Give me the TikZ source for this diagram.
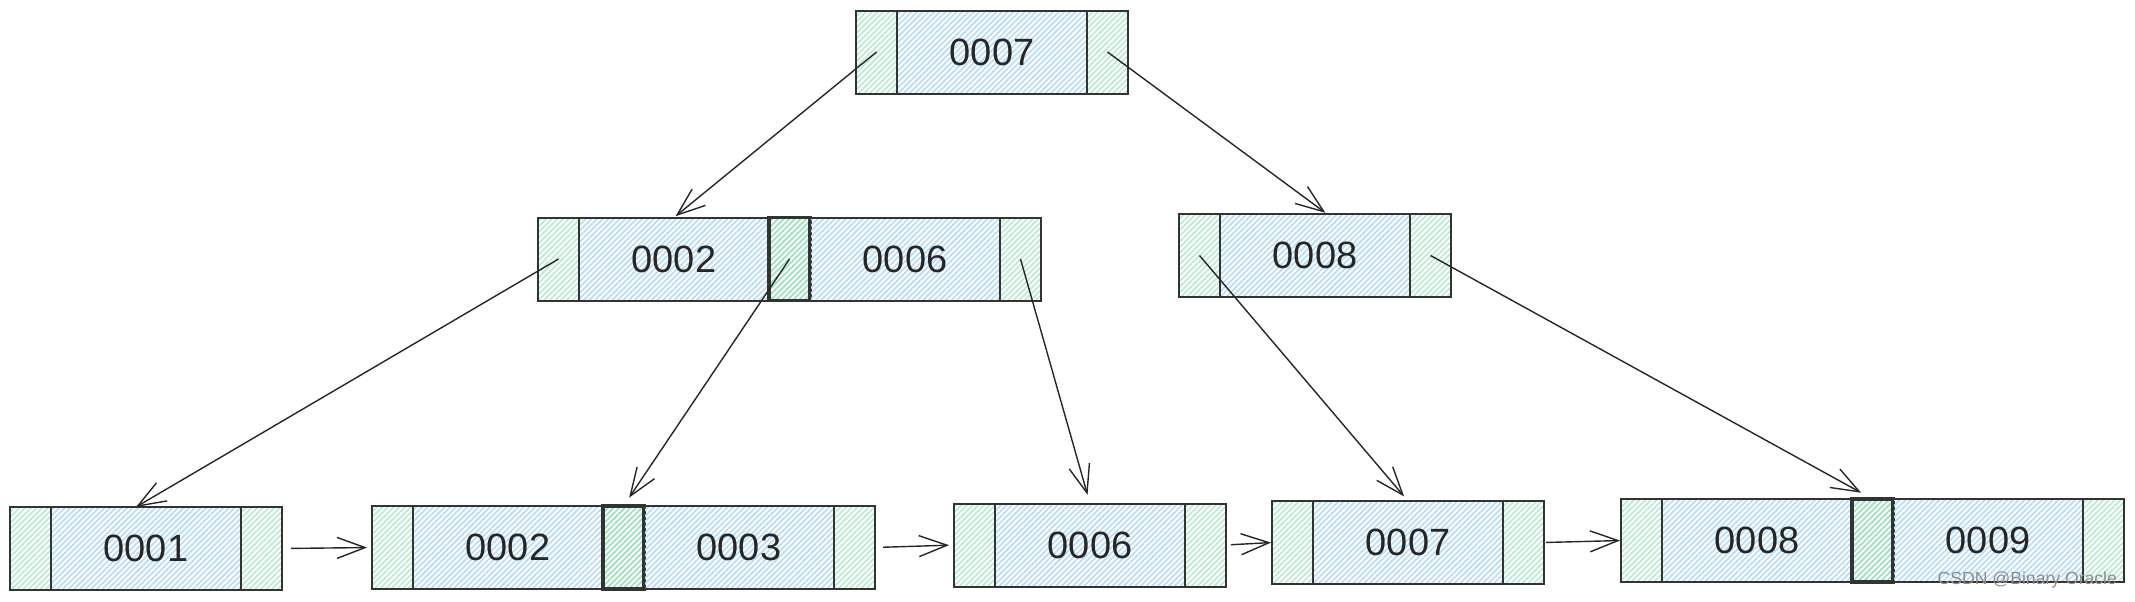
\documentclass[tikz,border=0pt]{standalone}
\usepackage{fontspec}
\setmainfont{Liberation Sans}
\usetikzlibrary{positioning,arrows.meta,patterns.meta}
\definecolor{keyblue}{HTML}{BBDDF6}
\definecolor{ptrgreen}{HTML}{BDEBD3}
\definecolor{midgreen}{HTML}{9FE0BF}
\definecolor{boxline}{HTML}{333333}

\begin{document}
\begin{tikzpicture}[x=0.5pt,y=-0.5pt,node distance=0pt,
   box/.style={draw=boxline,line width=1pt,minimum height=41.5pt,inner sep=0pt,outer sep=0pt},
   key/.style={box,minimum width=95pt,text=black!85,font=\fontsize{19}{19}\selectfont,
      pattern={Lines[angle=45,distance=2pt,line width=0.9pt]},pattern color=keyblue},
   ptr/.style={box,minimum width=20.5pt,
      pattern={Lines[angle=45,distance=2pt,line width=0.9pt]},pattern color=ptrgreen},
   midptr/.style={ptr,line width=1.7pt,pattern color=midgreen},
   link/.style={-{Straight Barb[length=14pt,width=10.5pt]},line width=0.7pt,color=black!85}]
   \useasboundingbox (0,0) rectangle (2135,601);
   % root
   \node[ptr,anchor=west] (r_0) at (856,52) {};
   \node[key] (r_k) [right=of r_0] {0007};
   \node[ptr] (r_1) [right=of r_k] {};
   % inner nodes
   \node[ptr,anchor=west] (a_0) at (538,259) {};
   \node[key] (a_k1) [right=of a_0] {0002};
   \node[midptr] (a_1) [right=of a_k1] {};
   \node[key] (a_k2) [right=of a_1] {0006};
   \node[ptr] (a_2) [right=of a_k2] {};
   \node[ptr,anchor=west] (b_0) at (1179,255.5) {};
   \node[key] (b_k) [right=of b_0] {0008};
   \node[ptr] (b_1) [right=of b_k] {};
   % leaves
   \node[ptr,anchor=west] (c_0) at (10,548.5) {};
   \node[key] (c_k) [right=of c_0] {0001};
   \node[ptr] (c_1) [right=of c_k] {};
   \node[ptr,anchor=west] (d_0) at (372,547.5) {};
   \node[key] (d_k1) [right=of d_0] {0002};
   \node[midptr] (d_1) [right=of d_k1] {};
   \node[key] (d_k2) [right=of d_1] {0003};
   \node[ptr] (d_2) [right=of d_k2] {};
   \node[ptr,anchor=west] (e_0) at (954,545) {};
   \node[key] (e_k) [right=of e_0] {0006};
   \node[ptr] (e_1) [right=of e_k] {};
   \node[ptr,anchor=west] (f_0) at (1272,542.5) {};
   \node[key] (f_k) [right=of f_0] {0007};
   \node[ptr] (f_1) [right=of f_k] {};
   \node[ptr,anchor=west] (g_0) at (1621,540.5) {};
   \node[key] (g_k1) [right=of g_0] {0008};
   \node[midptr] (g_1) [right=of g_k1] {};
   \node[key] (g_k2) [right=of g_1] {0009};
   \node[ptr] (g_2) [right=of g_k2] {};
   \node[text=black!45,font=\fontsize{8.8}{9}\selectfont,anchor=east] (mark) at (2124,580) {CSDN @Binary Oracle};
    \path[link]
    (r_0.center) edge [shorten >=1pt] (a_k1.north)
    (r_1.center) edge [shorten >=1pt] ([xshift=6pt]b_k.north)
    (a_0.center) edge ([xshift=-5pt]c_k.north)
    (a_1.center) edge [shorten >=5pt] (d_1.north)
    (a_2.center) edge [shorten >=4.5pt] (e_k.north)
    (b_0.center) edge [shorten >=3pt] (f_k.north)
    (b_1.center) edge [shorten >=6.5pt] (g_1.north)
    (c_1.east) edge [shorten <=4.5pt,shorten >=2.5pt] (d_0.west)
    (d_2.east) edge [shorten <=4pt,shorten >=2.5pt] (e_0.west)
    (e_1.east) edge [shorten <=2.5pt,shorten >=0.5pt] (f_0.west)
    (f_1.east) edge [shorten <=1pt,shorten >=0.5pt] (g_0.west);
\end{tikzpicture}
\end{document}
